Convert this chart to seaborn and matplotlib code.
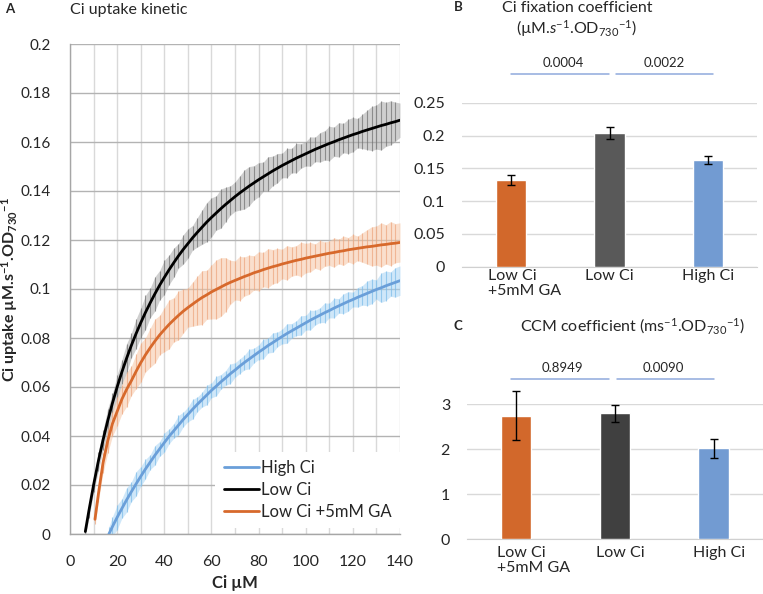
import numpy as np
import pandas as pd
import matplotlib
matplotlib.use("Agg")
import matplotlib.pyplot as plt
import matplotlib.transforms as mtransforms
from matplotlib.ticker import FuncFormatter
import seaborn as sns

# ---------------- Panel A data ----------------
low_x = [6.5] + list(range(8, 141, 2))
low_y = [0.001, 0.0094, 0.0200, 0.0296, 0.0383, 0.0462, 0.0534, 0.0600, 0.0661, 0.0717,
         0.0769, 0.0817, 0.0862, 0.0904, 0.0943, 0.0980, 0.1015, 0.1047, 0.1078, 0.1107,
         0.1135, 0.1161, 0.1185, 0.1209, 0.1231, 0.1252, 0.1273, 0.1292, 0.1310, 0.1328,
         0.1345, 0.1361, 0.1377, 0.1392, 0.1406, 0.1420, 0.1433, 0.1446, 0.1458, 0.1470,
         0.1482, 0.1493, 0.1504, 0.1514, 0.1524, 0.1534, 0.1543, 0.1552, 0.1561, 0.1570,
         0.1578, 0.1586, 0.1594, 0.1601, 0.1609, 0.1616, 0.1623, 0.1630, 0.1636, 0.1643,
         0.1649, 0.1655, 0.1661, 0.1667, 0.1672, 0.1678, 0.1683, 0.1689]
low_err = [0.002, 0.003, 0.003, 0.004, 0.004, 0.005, 0.004, 0.005, 0.005, 0.006,
           0.005, 0.006, 0.006, 0.007, 0.006, 0.007, 0.006, 0.007, 0.006, 0.006,
           0.005, 0.006, 0.006, 0.005, 0.006, 0.007, 0.008, 0.008, 0.007, 0.008,
           0.007, 0.006, 0.006, 0.007, 0.008, 0.008, 0.007, 0.007, 0.006, 0.007,
           0.006, 0.006, 0.005, 0.006, 0.005, 0.006, 0.005, 0.005, 0.006, 0.005,
           0.006, 0.006, 0.007, 0.006, 0.007, 0.006, 0.007, 0.007, 0.006, 0.007,
           0.008, 0.009, 0.009, 0.010, 0.009, 0.009, 0.008, 0.007]

ga_x = [10.6] + list(range(12, 141, 2))
ga_y = [0.006, 0.016, 0.029, 0.038, 0.045, 0.050, 0.055, 0.059, 0.0625, 0.0663,
        0.0699, 0.0731, 0.0760, 0.0787, 0.0812, 0.0834, 0.0855, 0.0874, 0.0892, 0.0909,
        0.0924, 0.0938, 0.0952, 0.0965, 0.0976, 0.0988, 0.0998, 0.1008, 0.1018, 0.1027,
        0.1035, 0.1043, 0.1051, 0.1058, 0.1066, 0.1072, 0.1079, 0.1085, 0.1091, 0.1096,
        0.1102, 0.1107, 0.1112, 0.1117, 0.1121, 0.1126, 0.1130, 0.1134, 0.1138, 0.1142,
        0.1146, 0.1149, 0.1153, 0.1156, 0.1160, 0.1163, 0.1166, 0.1169, 0.1172, 0.1174,
        0.1177, 0.1180, 0.1182, 0.1185, 0.1187, 0.1190]
ga_err = [0.002, 0.003, 0.004, 0.005, 0.005, 0.006, 0.006, 0.007, 0.006, 0.007,
          0.008, 0.007, 0.008, 0.009, 0.008, 0.009, 0.010, 0.009, 0.010, 0.009,
          0.008, 0.009, 0.010, 0.011, 0.010, 0.011, 0.012, 0.012, 0.011, 0.009,
          0.008, 0.009, 0.008, 0.008, 0.007, 0.008, 0.007, 0.008, 0.007, 0.007,
          0.006, 0.007, 0.006, 0.006, 0.007, 0.006, 0.006, 0.005, 0.006, 0.005,
          0.005, 0.006, 0.005, 0.006, 0.005, 0.006, 0.005, 0.006, 0.007, 0.008,
          0.008, 0.009, 0.008, 0.009, 0.008, 0.008]

high_x = [16.5] + list(range(18, 141, 2))
high_y = [0.0, 0.0030, 0.0068, 0.0104, 0.0139, 0.0172, 0.0204, 0.0235, 0.0265, 0.0293,
          0.0321, 0.0347, 0.0373, 0.0398, 0.0421, 0.0444, 0.0467, 0.0488, 0.0509, 0.0529,
          0.0548, 0.0567, 0.0586, 0.0603, 0.0621, 0.0637, 0.0654, 0.0669, 0.0685, 0.0700,
          0.0714, 0.0728, 0.0742, 0.0755, 0.0769, 0.0781, 0.0794, 0.0806, 0.0818, 0.0829,
          0.0840, 0.0851, 0.0862, 0.0873, 0.0883, 0.0893, 0.0903, 0.0912, 0.0922, 0.0931,
          0.0940, 0.0949, 0.0957, 0.0966, 0.0974, 0.0982, 0.0990, 0.0998, 0.1005, 0.1013,
          0.1020, 0.1027, 0.1034]
high_err = [0.003, 0.004, 0.005, 0.004, 0.005, 0.004, 0.005, 0.004, 0.004, 0.003,
            0.004, 0.003, 0.004, 0.003, 0.003, 0.004, 0.003, 0.003, 0.004, 0.003,
            0.003, 0.004, 0.003, 0.004, 0.003, 0.003, 0.004, 0.003, 0.003, 0.003,
            0.004, 0.003, 0.003, 0.004, 0.003, 0.004, 0.003, 0.003, 0.004, 0.003,
            0.003, 0.004, 0.003, 0.004, 0.003, 0.003, 0.004, 0.003, 0.004, 0.003,
            0.004, 0.004, 0.003, 0.004, 0.004, 0.005, 0.005, 0.004, 0.006, 0.006,
            0.005, 0.006, 0.006]

series_names = ["High Ci", "Low Ci", "Low Ci +5mM GA"]

# ---------------- Panels B and C data ----------------
bar_labels = ["Low Ci\n+5mM GA", "Low Ci", "High Ci"]
fix_vals = [0.132, 0.204, 0.162]
fix_errs = [0.008, 0.009, 0.006]
fix_pvals = ["0.0004", "0.0022"]
ccm_vals = [2.75, 2.80, 2.02]
ccm_errs = [0.54, 0.19, 0.22]
ccm_pvals = ["0.8949", "0.0090"]

# ---------------- style ----------------
sns.set_style("white")
plt.rcParams["font.family"] = ["Lato", "DejaVu Sans"]
plt.rcParams["mathtext.fontset"] = "custom"
plt.rcParams["mathtext.rm"] = "Lato"
plt.rcParams["mathtext.it"] = "Lato:italic"
plt.rcParams["mathtext.bf"] = "Lato:bold"
plt.rcParams["mathtext.default"] = "regular"

TXT = "#262626"
ORANGE_BAR = "#d2682b"
BLUE_BAR = "#729bd2"

fig = plt.figure(figsize=(7.63, 5.94), dpi=100)
W, H = 763.0, 594.0


def px_axes(l, t, r, b):
    return fig.add_axes([l / W, 1 - b / H, (r - l) / W, (b - t) / H])


# ================= Panel A =================
axA = px_axes(70, 44, 400, 534)
axA.set_axisbelow(True)

bands = [
    (high_x, high_y, high_err, "#a8d5f5", "#7cbbe9", "#6a9fd9"),
    (low_x, low_y, low_err, "#a8a8a8", "#707070", "#000000"),
    (ga_x, ga_y, ga_err, "#f6c6a4", "#eca57e", "#d7692c"),
]
for (x, y, e, fc, lc, _), name in zip(bands, series_names):
    x = np.asarray(x, float)
    y = np.asarray(y, float)
    e = np.asarray(e, float)
    axA.fill_between(x, y - e, y + e, color=fc, alpha=0.55, lw=0, zorder=2)
    axA.vlines(x, y - e, y + e, color=lc, lw=0.8, alpha=0.7, zorder=2)

for (x, y, e, fc, lc, c), name in zip(bands, series_names):
    sns.lineplot(x=x, y=y, ax=axA, color=c, lw=2.0, label=name,
                 estimator=None, sort=False, zorder=4)

axA.set_xlim(0, 140)
axA.set_ylim(0, 0.2)
axA.set_xticks(range(0, 141, 20))
axA.set_xticks(range(0, 141, 10), minor=True)
axA.set_yticks(np.linspace(0, 0.2, 11))
axA.yaxis.set_major_formatter(FuncFormatter(lambda v, p: f"{round(v, 2):g}"))
axA.grid(axis="x", which="both", color="#d9d9d9", lw=1.0)
axA.grid(axis="y", which="major", color="#b3b3b3", lw=1.0)
for s in ["top", "right"]:
    axA.spines[s].set_visible(False)
for s in ["left", "bottom"]:
    axA.spines[s].set_color("#a6a6a6")
    axA.spines[s].set_linewidth(1.0)
axA.tick_params(axis="x", which="both", direction="out", length=5, width=1,
                color="#a6a6a6", pad=10, labelsize=11.5, labelcolor=TXT)
axA.tick_params(axis="y", which="major", direction="out", length=6, width=1,
                color="#a6a6a6", pad=8, labelsize=11, labelcolor=TXT)
axA.tick_params(axis="y", which="minor", length=0)
axA.set_xlabel("Ci µM", fontsize=12, fontweight="bold", color=TXT)
axA.xaxis.set_label_coords(0.5, -0.083)
axA.set_ylabel("Ci uptake µM.s$^{-1}$.OD$_{730}$$^{-1}$", fontsize=11.5,
               fontweight="bold", color=TXT)
axA.yaxis.set_label_coords(-0.153, 0.5)

leg = axA.legend(loc="lower right", bbox_to_anchor=(1.0, 0.012), frameon=True,
                 framealpha=1, facecolor="white", edgecolor="none", fancybox=False,
                 fontsize=12, handlelength=2.1, handletextpad=0.15,
                 borderaxespad=0, labelspacing=0.35, borderpad=0.5)
leg.set_zorder(5)
for t in leg.get_texts():
    t.set_color(TXT)

fig.text(10 / W, 1 - 9 / H, "A", fontsize=9.5, fontweight="bold", ha="center",
         va="center", color=TXT)
fig.text(70 / W, 1 - 10 / H, "Ci uptake kinetic", fontsize=11.5, ha="left",
         va="center", color=TXT)


# ================= Panels B and C =================
def bar_panel(ax, vals, errs, ylim, yticks, grey, pvals, line_y, text_y,
              line_xs, text_xs, label_pad, first_dx, other_dx):
    df = pd.DataFrame({"cond": bar_labels, "val": vals})
    sns.barplot(data=df, x="cond", y="val", hue="cond",
                palette=[ORANGE_BAR, grey, BLUE_BAR], width=0.31,
                saturation=1, legend=False, ax=ax, zorder=3)
    eb = ax.errorbar(range(len(vals)), vals, yerr=errs, fmt="none", ecolor="black",
                     elinewidth=1, capsize=3, capthick=1, zorder=4)
    for a in eb.get_children():
        a.set_clip_on(False)
    ax.set_xlim(-0.5, 2.5)
    ax.set_ylim(*ylim)
    ax.set_yticks(yticks)
    ax.yaxis.set_major_formatter(FuncFormatter(lambda v, p: f"{round(v, 2):g}"))
    ax.set_axisbelow(True)
    ax.grid(axis="y", color="#d9d9d9", lw=1.0)
    ax.grid(axis="x", visible=False)
    for s in ["left", "top", "right"]:
        ax.spines[s].set_visible(False)
    ax.spines["bottom"].set_color("#d0d0d0")
    ax.set_xlabel("")
    ax.set_ylabel("")
    ax.tick_params(axis="both", length=0, labelsize=11.5, labelcolor=TXT)
    ax.tick_params(axis="y", pad=12)
    ax.tick_params(axis="x", pad=label_pad)
    for (x0, x1), tx, p in zip(line_xs, text_xs, pvals):
        ax.plot([x0, x1], [line_y, line_y], color="#8faadc", lw=1.1, clip_on=False)
        ax.text(tx, text_y, p, ha="center", va="center", fontsize=9.5,
                color=TXT, clip_on=False)
    labs = ax.get_xticklabels()
    for i, lab in enumerate(labs):
        lab.set_linespacing(1.15)
        if i == 0:
            lab.set_ha("left")
            lab.set_multialignment("left")
            dx = first_dx
        else:
            dx = other_dx
        lab.set_transform(lab.get_transform() +
                          mtransforms.ScaledTranslation(dx / 100, 0, fig.dpi_scale_trans))


axB = px_axes(462, 102.7, 757.2, 266.7)
bar_panel(axB, fix_vals, fix_errs, (0, 0.25), np.linspace(0, 0.25, 6), "#595959",
          fix_pvals, 0.294, 0.311, [(0.0, 0.99), (1.07, 2.05)], [0.53, 1.56],
          1.5, -23, 0)

axC = px_axes(466.7, 404.3, 763, 539.3)
bar_panel(axC, ccm_vals, ccm_errs, (0, 3), [0, 1, 2, 3], "#404040",
          ccm_pvals, 3.57, 3.80, [(-0.05, 0.94), (1.02, 2.0)], [0.465, 1.49],
          4.5, -19, 5)

fig.text(458 / W, 1 - 7 / H, "B", fontsize=9.5, fontweight="bold", ha="center",
         va="center", color=TXT)
fig.text(577 / W, 1 - 8 / H, "Ci fixation coefficient", fontsize=11.5,
         ha="center", va="center", color=TXT)
fig.text(577 / W, 1 - 29 / H, r"(µM.$\mathit{s}$$^{-1}$.OD$_{730}$$^{-1}$)",
         fontsize=11.5, ha="center", va="center", color=TXT)
fig.text(458 / W, 1 - 326 / H, "C", fontsize=9.5, fontweight="bold", ha="center",
         va="center", color=TXT)
fig.text(632 / W, 1 - 326 / H, "CCM coefficient (ms$^{-1}$.OD$_{730}$$^{-1}$)",
         fontsize=11.5, ha="center", va="center", color=TXT)

fig.savefig("out.png", dpi=100)
